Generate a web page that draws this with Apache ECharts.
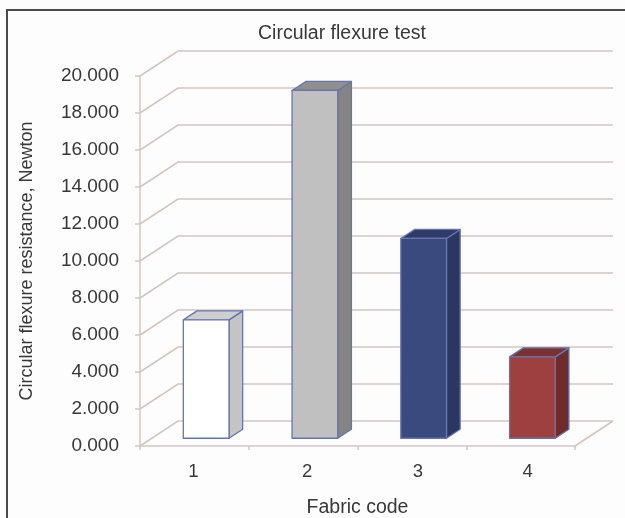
<!DOCTYPE html>
<html>
<head>
<meta charset="utf-8">
<script src="https://cdn.jsdelivr.net/npm/echarts@6/dist/echarts.min.js"></script>
<style>
  html, body { margin: 0; padding: 0; background: #fdfdfd; }
  #chart { width: 625px; height: 518px; }
</style>
</head>
<body>
<div id="chart"></div>
<script>
// Fabric codes and their circular flexure resistance (N)
const categories = ['1', '2', '3', '4'];
const resistance = [6.4, 18.8, 10.8, 4.4];
const yTicks = [0, 2, 4, 6, 8, 10, 12, 14, 16, 18, 20];

// face colours per bar: [front, side, top]
const barFaces = [
  ['#ffffff', '#c4c4c4', '#cfcfcf'],
  ['#c0c0c0', '#848484', '#8f8f8f'],
  ['#3b4a7e', '#2b3763', '#2f3b69'],
  ['#9f4040', '#702c2c', '#7a3131']
];

// perspective depth of the plot box, in pixels
const DEPTH = [38, -25];
// bars occupy this slice of the depth
const F0 = 0.31, F1 = 0.67;
// horizontal nudge of each category label (perspective spread)
const LABEL_SHIFT = [-1, 4, 6, 7];
const GRID_COLOR = '#d0c6c1';
const TEXT_COLOR = '#383838';
const FONT = '"Liberation Sans", Arial, sans-serif';

const chart = echarts.init(document.getElementById('chart'), null, { renderer: 'canvas' });

// back wall and left side wall gridlines, one per value tick
function wallLines(params, api) {
  const v = api.value(1);
  const bw = api.size([1, 0])[0];
  const first = api.coord([0, v]);
  const last = api.coord([categories.length - 1, v]);
  const xl = first[0] - bw / 2;
  const xr = last[0] + bw / 2;
  const y = first[1];
  const children = [{
    type: 'polyline',
    shape: { points: [[xl, y], [xl + DEPTH[0], y + DEPTH[1]], [xr + DEPTH[0], y + DEPTH[1]]] },
    style: { stroke: GRID_COLOR, lineWidth: 1.5, fill: null }
  }];
  if (v === 0) {
    // right edge of the floor
    children.push({
      type: 'line',
      shape: { x1: xr, y1: y, x2: xr + DEPTH[0], y2: y + DEPTH[1] },
      style: { stroke: GRID_COLOR, lineWidth: 1.5 }
    });
  }
  return { type: 'group', children: children };
}

// box-shaped bar: side face, top face, then front face
function bar3d(params, api) {
  const i = api.value(0);
  const top = api.coord([i, api.value(1)]);
  const base = api.coord([i, 0]);
  const bw = api.size([1, 0])[0];
  const w = bw * 0.42;
  const x0 = top[0] - w / 2 + DEPTH[0] * F0;
  const x1 = x0 + w;
  const yT = top[1] + DEPTH[1] * F0;
  const yB = base[1] + DEPTH[1] * F0;
  const dx = DEPTH[0] * (F1 - F0), dy = DEPTH[1] * (F1 - F0);
  const faces = barFaces[i];
  const edge = { stroke: '#6676ad', lineWidth: 1.3, lineJoin: 'round' };
  return {
    type: 'group',
    children: [
      { type: 'polygon', shape: { points: [[x1, yT], [x1 + dx, yT + dy], [x1 + dx, yB + dy], [x1, yB]] },
        style: Object.assign({ fill: faces[1] }, edge) },
      { type: 'polygon', shape: { points: [[x0, yT], [x0 + dx, yT + dy], [x1 + dx, yT + dy], [x1, yT]] },
        style: Object.assign({ fill: faces[2] }, edge) },
      { type: 'rect', shape: { x: x0, y: yT, width: w, height: yB - yT },
        style: Object.assign({ fill: faces[0] }, edge) }
    ]
  };
}

// one rich style per category label so each can be nudged sideways
const labelRich = {};
LABEL_SHIFT.forEach((s, i) => {
  labelRich['c' + i] = {
    fontFamily: FONT, fontSize: 18.5, color: TEXT_COLOR,
    padding: s >= 0 ? [0, 0, 0, 2 * s] : [0, -2 * s, 0, 0]
  };
});

chart.setOption({
  backgroundColor: '#fdfdfd',
  animation: false,
  title: {
    text: 'Circular flexure test',
    left: 253,
    top: 19,
    textStyle: { fontFamily: FONT, fontSize: 19.5, fontWeight: 'normal', color: TEXT_COLOR }
  },
  graphic: [{
    type: 'rect',
    shape: { x: 7, y: 10, width: 700, height: 600 },
    style: { fill: null, stroke: '#4a4a4a', lineWidth: 2 },
    z: 100
  }],
  grid: { left: 140, right: 50, top: 76, bottom: 72, containLabel: false, outerBoundsMode: 'none' },
  xAxis: {
    type: 'category',
    data: categories,
    name: 'Fabric code',
    nameLocation: 'middle',
    nameGap: 52,
    nameTextStyle: { fontFamily: FONT, fontSize: 19.5, color: TEXT_COLOR },
    axisLine: { lineStyle: { color: GRID_COLOR, width: 1.5 } },
    axisTick: { show: true, length: 4, lineStyle: { color: GRID_COLOR, width: 1.5 } },
    axisLabel: {
      margin: 16,
      formatter: (v, i) => '{c' + i + '|' + v + '}',
      rich: labelRich
    },
    splitLine: { show: false }
  },
  yAxis: {
    type: 'value',
    min: 0,
    max: 20,
    interval: 2,
    name: 'Circular flexure resistance, Newton',
    nameLocation: 'middle',
    nameGap: 104,
    nameTextStyle: { fontFamily: FONT, fontSize: 18, color: TEXT_COLOR },
    axisLine: { show: true, lineStyle: { color: GRID_COLOR, width: 1.5 } },
    axisTick: { show: true, length: 5, lineStyle: { color: GRID_COLOR, width: 1.5 } },
    axisLabel: {
      margin: 21, fontFamily: FONT, fontSize: 19, color: TEXT_COLOR,
      formatter: v => v.toFixed(3)
    },
    splitLine: { show: false }
  },
  series: [
    {
      type: 'custom',
      z: 1,
      silent: true,
      renderItem: wallLines,
      data: yTicks.map(v => [0, v])
    },
    {
      type: 'custom',
      z: 2,
      renderItem: bar3d,
      data: resistance.map((v, i) => [i, v])
    }
  ]
});
</script>
</body>
</html>
